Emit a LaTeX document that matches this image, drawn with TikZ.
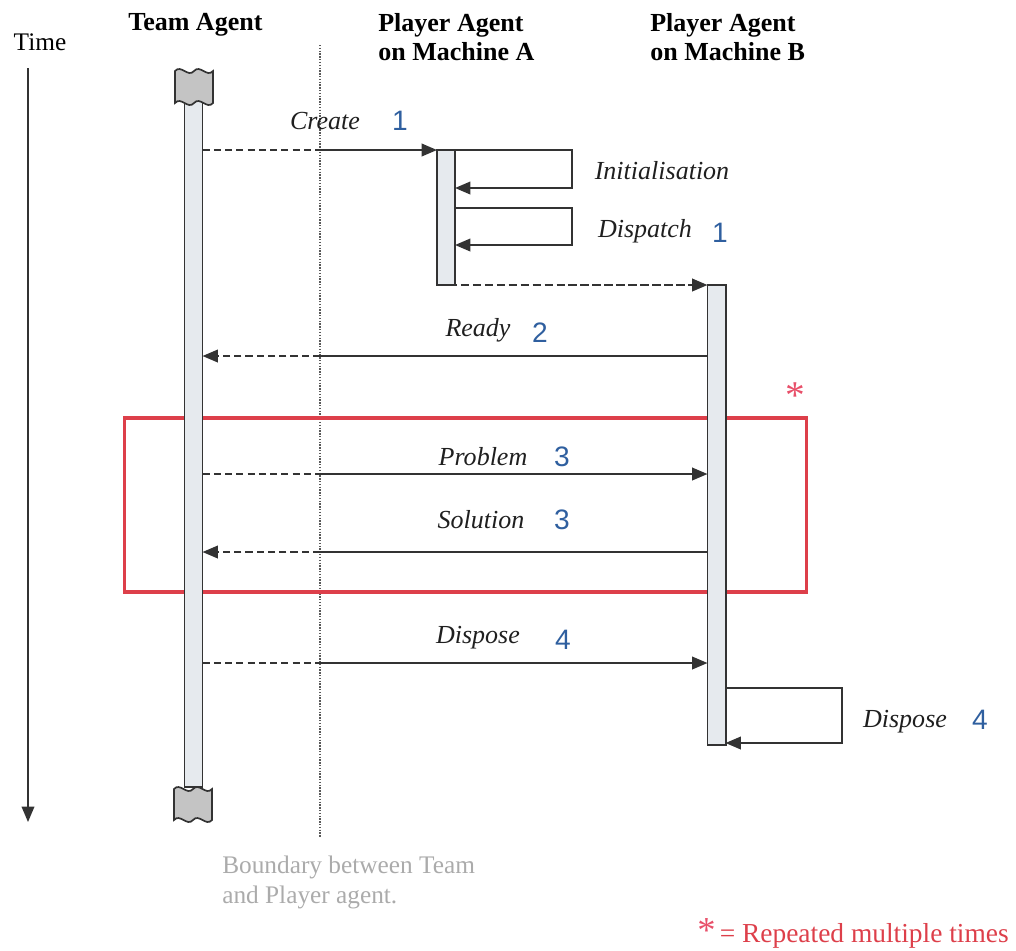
\documentclass[tikz,border=0pt]{standalone}
\usepackage{fontspec}
\setmainfont{Liberation Serif}
\newfontfamily\numfont{Liberation Sans}
\usetikzlibrary{arrows.meta}
\definecolor{ink}{HTML}{333333}
\definecolor{barfill}{HTML}{E6EAEE}
\definecolor{capfill}{HTML}{C4C4C4}
\definecolor{redbox}{HTML}{DD3F4A}
\definecolor{starred}{HTML}{E8506A}
\definecolor{numblue}{HTML}{2F5F9F}
\definecolor{bndtext}{HTML}{ABABAB}
\begin{document}
\begin{tikzpicture}[x=0.025cm,y=-0.025cm,
  font=\fontsize{18}{21}\selectfont,
  bar/.style={draw=ink, line width=1.4pt, fill=barfill, minimum width=0.45cm, inner sep=0pt, outer sep=0pt},
  capbox/.style={draw=ink, line width=1.2pt, fill=capfill},
  msg/.style={draw=ink, line width=1.4pt, -{Triangle[length=11pt,width=9pt]}},
  dsh/.style={draw=ink, line width=1.4pt, dash pattern=on 5pt off 3pt},
  lbl/.style={font=\fontsize{18.5}{21}\selectfont\itshape, text=black!88, inner sep=0pt},
  num/.style={font=\fontsize{20}{21}\selectfont\numfont, text=numblue, inner sep=0pt},
  head/.style={font=\fontsize{18.5}{21}\selectfont\bfseries, align=left, anchor=north west, inner sep=0pt},
  starmark/.style={text=starred, font=\fontsize{28}{28}\selectfont, inner sep=0pt, anchor=north, text depth=0pt},
]
\useasboundingbox (0,0) rectangle (1016,950);

% headings
\node[head] (hT) at (128,13) {Team Agent};
\node[head] (hA) at (378,13) {Player Agent\\on Machine A};
\node[head] (hB) at (650,13) {Player Agent\\on Machine B};

% time axis
\node[inner sep=0pt] (time) at (40,42) {Time};
\coordinate (t0) at (28,68);
\coordinate (t1) at (28,822);
\draw[msg, line width=1.2pt] (t0) -- (t1);

% boundary
\coordinate (b0) at (320,45);
\coordinate (b1) at (320,838);
\draw[draw=black!65, line width=1pt, dash pattern=on 1pt off 1pt] (b0) -- (b1);
\node[text=bndtext, align=left, anchor=north west, inner sep=0pt] (bndlbl) at (222,856) {Boundary between Team\\and Player agent.};

% repeated region
\node[draw=redbox, line width=2.2pt, minimum width=17.025cm, minimum height=4.35cm, inner sep=0pt] (rep) at (465.5,505) {};
\node[starmark] (star) at (795,382) {*};

% lifelines
\node[bar, minimum height=17.175cm] (barT) at (193.5,443.5) {};
\node[bar, minimum height=3.375cm] (barA) at (446,217.5) {};
\node[bar, minimum height=11.5cm] (barB) at (716.5,515) {};

% caps
\draw[capbox] (175,71) .. controls (181,64) and (188,78) .. (194,71) .. controls (200,64) and (207,78) .. (213,71)
  -- (213,103) .. controls (207,110) and (200,96) .. (194,103) .. controls (188,110) and (181,96) .. (175,103) -- cycle;
\draw[capbox] (174,789) .. controls (180,782) and (187,796) .. (193,789) .. controls (199,782) and (206,796) .. (212,789)
  -- (212,820) .. controls (206,827) and (199,813) .. (193,820) .. controls (187,827) and (180,813) .. (174,820) -- cycle;

% Create
\coordinate (cX) at (320,150);
\draw[dsh] (barT.east |- cX) -- (cX);
\draw[msg] (cX) -- (barA.west |- cX);
\node[lbl] (lCreate) at (325,121) {Create};
\node[num] (nCreate) at (400,121) {1};

% Initialisation self-message
\coordinate (i0) at (572,150);
\coordinate (i1) at (572,188);
\draw[msg] (barA.east |- i0) -- (i0) -- (i1) -- (barA.east |- i1);
\node[lbl] (lInit) at (662,171) {Initialisation};

% Dispatch self-message
\coordinate (d0) at (572,208);
\coordinate (d1) at (572,245);
\draw[msg] (barA.east |- d0) -- (d0) -- (d1) -- (barA.east |- d1);
\node[lbl] (lDisp) at (645,231) {Dispatch};
\node[num] (nDisp) at (720,233) {1};

% transfer A -> B
\coordinate (tX) at (437,285);
\draw[msg, dash pattern=on 6pt off 2.5pt] (barA.west |- tX) -- (barB.west |- tX);

% Ready
\coordinate (rX) at (320,356);
\draw[draw=ink, line width=1.4pt] (barB.west |- rX) -- (rX);
\draw[dsh, -{Triangle[length=11pt,width=9pt]}] (rX) -- (barT.east |- rX);
\node[lbl] (lReady) at (478,330) {Ready};
\node[num] (nReady) at (540,333) {2};

% Problem
\coordinate (pX) at (320,474);
\draw[dsh] (barT.east |- pX) -- (pX);
\draw[msg] (pX) -- (barB.west |- pX);
\node[lbl] (lProb) at (483,457) {Problem};
\node[num] (nProb) at (562,457) {3};

% Solution
\coordinate (sX) at (320,552);
\draw[draw=ink, line width=1.4pt] (barB.west |- sX) -- (sX);
\draw[dsh, -{Triangle[length=11pt,width=9pt]}] (sX) -- (barT.east |- sX);
\node[lbl] (lSol) at (481,520) {Solution};
\node[num] (nSol) at (562,520) {3};

% Dispose
\coordinate (xX) at (320,663);
\draw[dsh] (barT.east |- xX) -- (xX);
\draw[msg] (xX) -- (barB.west |- xX);
\node[lbl] (lDispo) at (478,638) {Dispose};
\node[num] (nDispo) at (563,640) {4};

% Dispose self-message on B
\coordinate (e0) at (842,688);
\coordinate (e1) at (842,743);
\draw[msg] (barB.east |- e0) -- (e0) -- (e1) -- (barB.east |- e1);
\node[lbl] (lDispo2) at (905,722) {Dispose};
\node[num] (nDispo2) at (980,720) {4};

% legend
\node[text=redbox, anchor=base west, inner sep=0pt, font=\fontsize{19.5}{21}\selectfont] (legend) at (697,942)
  {{\fontsize{26}{26}\selectfont\textcolor{starred}{*}}\hspace{3pt}= Repeated multiple times};
\end{tikzpicture}
\end{document}
